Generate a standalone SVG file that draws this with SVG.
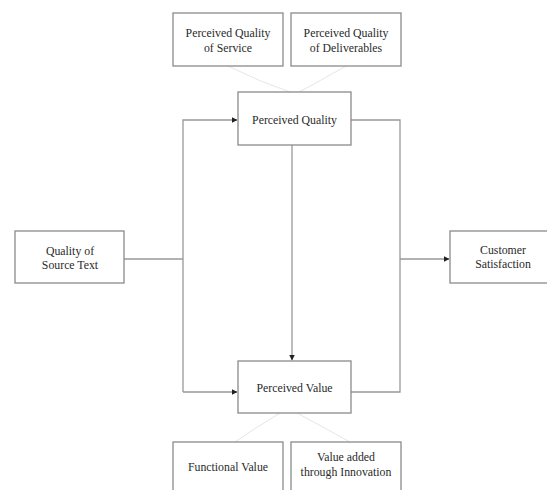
<svg xmlns="http://www.w3.org/2000/svg" width="547" height="490" viewBox="0 0 547 490">
<defs>
<style>
.box{fill:#fff;stroke:#8a8a8a;stroke-width:1.3}
.t{font-family:"Liberation Serif","Times New Roman",serif;font-size:11.8px;fill:#2a2a2a;text-anchor:middle}
.c{fill:none;stroke:#999;stroke-width:1.3}
.f{fill:none;stroke:#e6e6e6;stroke-width:1}
</style>
<marker id="ah" markerWidth="6" markerHeight="6" refX="5.5" refY="3" orient="auto" markerUnits="userSpaceOnUse">
<path d="M0,0 L6,3 L0,6 Z" fill="#222"/>
</marker>
</defs>
<rect width="547" height="490" fill="#fff"/>
<g id="connectors">
<path class="f" d="M228,66 Q260,82 290,92"/>
<path class="f" d="M346,66 Q318,82 299,92"/>
<path class="f" d="M280,413 Q255,428 235,442"/>
<path class="f" d="M297,413 Q325,428 350,442"/>
<path class="c" d="M124,259 H183"/>
<path class="c" d="M183,392 V120 H237" marker-end="url(#ah)"/>
<path class="c" d="M183,392 H237" marker-end="url(#ah)"/>
<path class="c" d="M292,145 V360" marker-end="url(#ah)"/>
<path class="c" d="M351,120 H400 V392 H351"/>
<path class="c" d="M400,259 H449" marker-end="url(#ah)"/>
</g>
<g id="pqs">
<rect class="box" x="173" y="13" width="110" height="53"/>
<text class="t" x="228" y="37">Perceived Quality</text>
<text class="t" x="228" y="52">of Service</text>
</g>
<g id="pqd">
<rect class="box" x="291" y="13" width="110" height="53"/>
<text class="t" x="346" y="37">Perceived Quality</text>
<text class="t" x="346" y="52">of Deliverables</text>
</g>
<g id="pq">
<rect class="box" x="238" y="92" width="113" height="53"/>
<text class="t" x="294.5" y="124">Perceived Quality</text>
</g>
<g id="qst">
<rect class="box" x="15" y="231" width="109" height="52"/>
<text class="t" x="70" y="255">Quality of</text>
<text class="t" x="70" y="269">Source Text</text>
</g>
<g id="cs">
<rect class="box" x="450" y="231" width="110" height="52"/>
<text class="t" x="503" y="254">Customer</text>
<text class="t" x="503" y="268">Satisfaction</text>
</g>
<g id="pv">
<rect class="box" x="238" y="361" width="113" height="52"/>
<text class="t" x="294.5" y="392">Perceived Value</text>
</g>
<g id="fv">
<rect class="box" x="173" y="442" width="110" height="55"/>
<text class="t" x="228" y="471">Functional Value</text>
</g>
<g id="vai">
<rect class="box" x="291" y="442" width="110" height="55"/>
<text class="t" x="346" y="461">Value added</text>
<text class="t" x="346" y="476">through Innovation</text>
</g>
</svg>
